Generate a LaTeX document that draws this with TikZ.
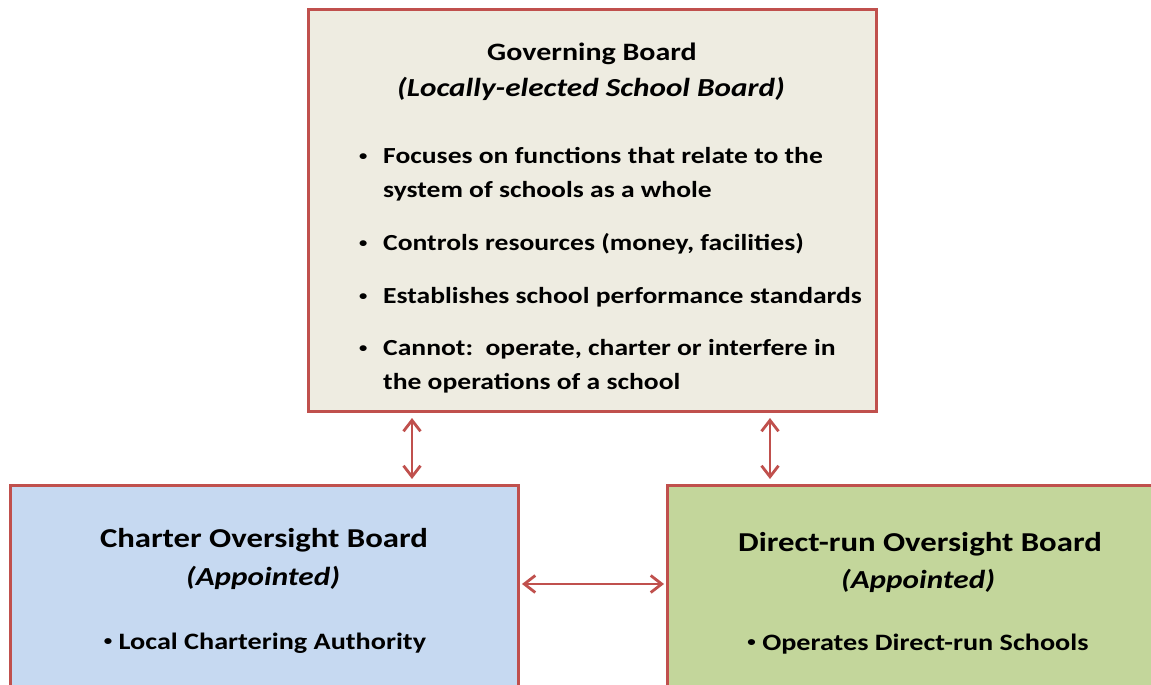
\documentclass[tikz,border=0pt]{standalone}
\usepackage{fontspec}
\setmainfont{Carlito}[FakeStretch=1.2]
\usetikzlibrary{arrows.meta}
\definecolor{bord}{RGB}{192,80,77}
\definecolor{govfill}{RGB}{238,236,225}
\definecolor{charfill}{RGB}{198,217,241}
\definecolor{dirfill}{RGB}{195,214,155}
\newcommand{\smbul}{\raisebox{0.13em}{\scalebox{0.6}{•}}}
\begin{document}
\begin{tikzpicture}[x=1pt,y=1pt,
  box/.style={draw=bord, line width=3pt, rectangle, inner sep=0pt},
  arr/.style={{Straight Barb[length=11pt,width=17pt]}-{Straight Barb[length=11pt,width=17pt]}, draw=bord, line width=2.8pt},
  ttl/.style={font=\fontsize{25}{30}\selectfont\bfseries, anchor=base, inner sep=0pt},
  sub/.style={font=\fontsize{26}{30}\selectfont\bfseries\itshape, anchor=base, inner sep=0pt},
  bul/.style={font=\fontsize{23}{34}\selectfont\bfseries, anchor=base west, inner sep=0pt},
  tb/.style={font=\fontsize{27.3}{31}\selectfont\bfseries, anchor=base, inner sep=0pt},
  tbi/.style={font=\fontsize{26}{31}\selectfont\bfseries\itshape, anchor=base, inner sep=0pt},
  tbb/.style={font=\fontsize{23.5}{31}\selectfont\bfseries, anchor=base, inner sep=0pt}]
\clip (0,0) rectangle (1151,-685);
\fill[white] (0,0) rectangle (1151,-685);
% boxes
\node[box, fill=govfill, minimum width=568pt, minimum height=402pt, anchor=north west] (gov) at (307,-8) {};
\node[box, fill=charfill, minimum width=508pt, minimum height=240pt, anchor=north west] (cob) at (9,-484) {};
\node[box, fill=dirfill, minimum width=520pt, minimum height=240pt, anchor=north west] (dob) at (666,-484) {};
% connectors
\coordinate (a1) at (412,0);
\coordinate (a2) at (770,0);
\coordinate (h) at (0,-584);
\draw[arr, shorten <=5pt, shorten >=5pt] (gov.south -| a1) -- (cob.north -| a1);
\draw[arr, shorten <=5pt, shorten >=5pt] (gov.south -| a2) -- (dob.north -| a2);
\draw[arr, shorten <=2pt, shorten >=2pt] (cob.east |- h) -- (dob.west |- h);
% governing board text
\node[ttl] (govt) at (592,-60) {Governing Board};
\node[sub] (govs) at (591,-96) {(Locally-elected School Board)};
\node[bul] (g1a) at (359,-163) {\makebox[24pt][l]{\smbul}Focuses on functions that relate to the};
\node[bul] (g1b) at (383,-197) {system of schools as a whole};
\node[bul] (g2) at (359,-250) {\makebox[24pt][l]{\smbul}Controls resources (money, facilities)};
\node[bul] (g3) at (359,-303) {\makebox[24pt][l]{\smbul}Establishes school performance standards};
\node[bul] (g4a) at (359,-355) {\makebox[24pt][l]{\smbul}Cannot:\ \ operate, charter or interfere in};
\node[bul] (g4b) at (383,-389) {the operations of a school};
% charter oversight board text
\node[tb] (cobt) at (264,-547) {Charter Oversight Board};
\node[tbi] (cobs) at (263,-585) {(Appointed)};
\node[tbb] (cobb) at (265,-649) {\smbul\ Local Chartering Authority};
% direct-run oversight board text
\node[tb] (dobt) at (920,-551) {Direct-run Oversight Board};
\node[tbi] (dobs) at (918,-588) {(Appointed)};
\node[tbb] (dobb) at (918,-650) {\smbul\ Operates Direct-run Schools};
\end{tikzpicture}
\end{document}
